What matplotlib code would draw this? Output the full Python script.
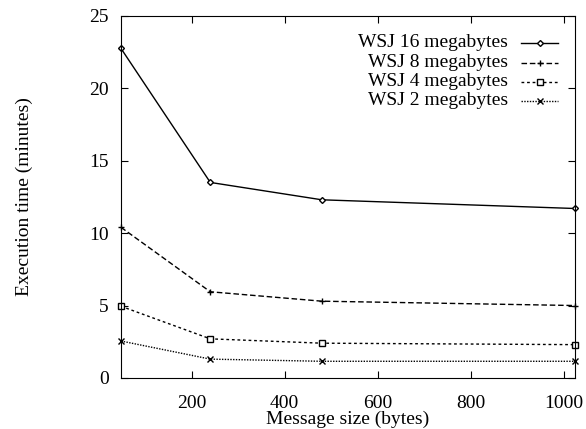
import matplotlib
matplotlib.use("Agg")
import matplotlib.pyplot as plt
from matplotlib.lines import Line2D

plt.rcParams['font.family'] = ['Liberation Serif', 'DejaVu Serif']
plt.rcParams['font.size'] = 14

msg_size = [48, 240, 480, 1024]
labels = ['WSJ 16 megabytes', 'WSJ 8 megabytes', 'WSJ 4 megabytes', 'WSJ 2 megabytes']
wsj16 = [22.75, 13.5, 12.3, 11.7]
wsj8 = [10.4, 5.95, 5.3, 5.0]
wsj4 = [4.95, 2.7, 2.4, 2.3]
wsj2 = [2.55, 1.3, 1.15, 1.15]

series = [wsj16, wsj8, wsj4, wsj2]
styles = [
    dict(ls='-', marker='D', ms=3, mfc='white'),
    dict(ls=(0, (4, 2)), marker='+', ms=5),
    dict(ls=(0, (2, 2)), marker='s', ms=4, mfc='white'),
    dict(ls=(0, (1, 1)), marker='x', ms=4),
]

fig = plt.figure(figsize=(5.86, 4.29), dpi=100)
ax = fig.add_axes([0.2065, 0.119, 0.7745, 0.844])

for y, st in zip(series, styles):
    ax.plot(msg_size, y, color='black', lw=1, mec='black', mew=1, clip_on=False, **st)

ax.set_xlim(48, 1024)
ax.set_ylim(0, 25)
ax.set_xticks([200, 400, 600, 800, 1000])
ax.set_yticks([0, 5, 10, 15, 20, 25])
ax.tick_params(direction='in', length=5, top=True, right=True)
ax.tick_params(axis='x', pad=12)
ax.tick_params(axis='y', pad=9)
ax.set_xlabel('Message size (bytes)', labelpad=-1)
ax.set_ylabel('Execution time (minutes)', labelpad=40)

# gnuplot style key: text right-aligned, sample line to the right
row_y = [43, 63, 82, 101]
for lab, st, py in zip(labels, styles, row_y):
    ya = (378 - py) / 362
    ax.text((508 - 121) / 454, ya, lab, transform=ax.transAxes, ha='right', va='center')
    ln = Line2D([(521 - 121) / 454, (558 - 121) / 454], [ya, ya], transform=ax.transAxes,
                color='black', lw=1, mec='black', mew=1, markevery=[], **st)
    ax.add_line(ln)
    ax.plot([(540 - 121) / 454], [ya], transform=ax.transAxes, color='black', mec='black',
            mew=1, marker=st['marker'], ms=st['ms'], mfc=st.get('mfc', 'black'), ls='none')

fig.savefig('out.png', dpi=100)
